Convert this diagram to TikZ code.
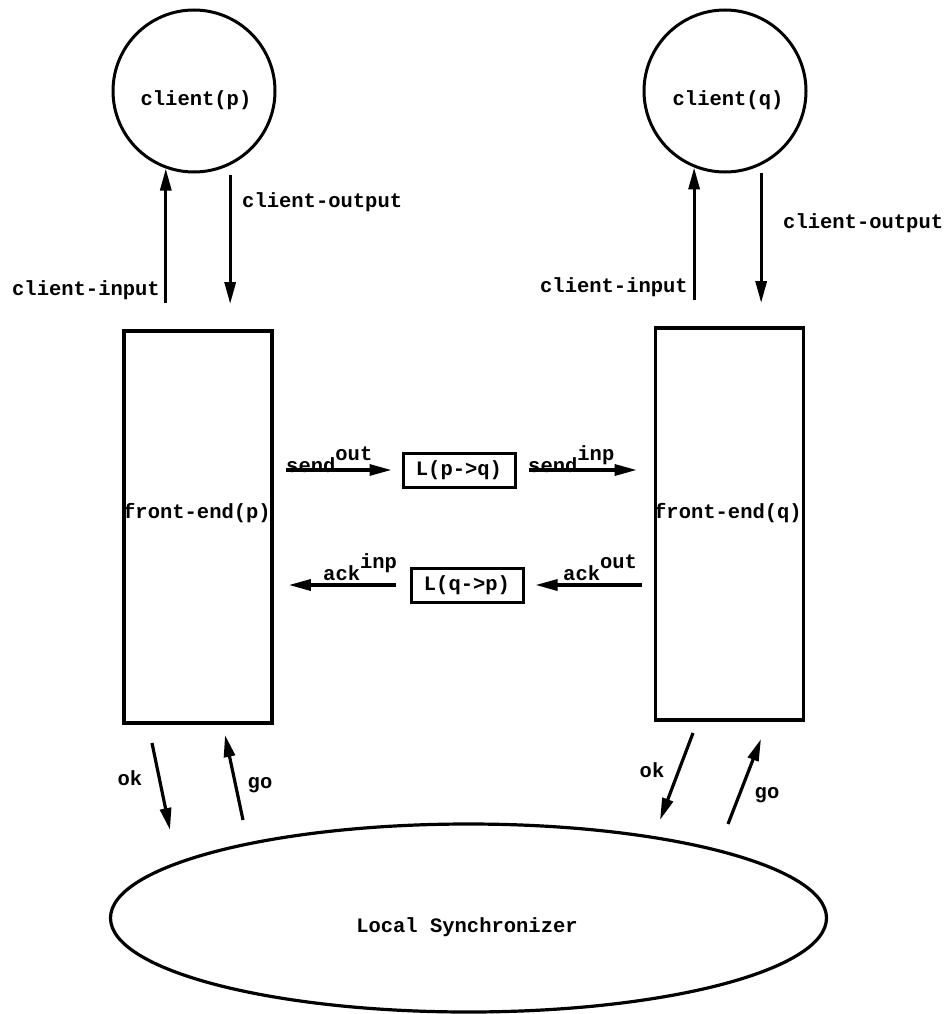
\documentclass[tikz,border=0pt]{standalone}
\usepackage{fontspec}
\setmainfont{Liberation Mono}
\usetikzlibrary{positioning, arrows.meta, calc, shapes.geometric}

\begin{document}
\begin{tikzpicture}[
  x=1pt, y=-1pt,
  font=\fontsize{20.5}{24}\selectfont\bfseries,
  lbl/.style={inner sep=0pt},
  proc/.style={draw, circle, line width=3pt, minimum size=162pt, inner sep=0pt},
  fend/.style={draw, line width=3.6pt, minimum width=148pt, minimum height=392pt, inner sep=0pt},
  chan/.style={draw, line width=3pt, minimum width=112pt, minimum height=34pt, inner sep=0pt},
  sync/.style={draw, ellipse, line width=3.2pt, minimum width=716pt, minimum height=188pt, inner sep=0pt},
  arr/.style={-{Triangle[length=22pt, width=11pt]}, line width=3.2pt},
]
\useasboundingbox (0, 0) rectangle (951, 1014);

% ─── clients ────────────────────────────────────────────────────────────────
\node[proc] (cp) at (194, 91) {};
\node[lbl] (cpl) at (196, 100) {client(p)};
\node[proc] (cq) at (725, 91) {};
\node[lbl] (cql) at (728, 100) {client(q)};

% ─── front-ends ─────────────────────────────────────────────────────────────
\node[fend] (fep) at (198, 527) {};
\node[lbl] (fepl) at (197, 513) {front-end(p)};
\node[fend] (feq) at (729.5, 524) {};
\node[lbl] (feql) at (728, 513) {front-end(q)};

% ─── channels ───────────────────────────────────────────────────────────────
\node[chan] (lpq) at (459, 470) {L(p->q)};
\node[chan] (lqp) at (467, 585) {L(q->p)};

% ─── synchronizer ───────────────────────────────────────────────────────────
\node[sync] (ls) at (468.5, 918) {};
\node[lbl] (lsl) at (467, 927) {Local Synchronizer};

% ─── client <-> front-end ───────────────────────────────────────────────────
\coordinate (cpin) at (165, 303);
\coordinate (cpout) at (229, 304);
\draw[arr] (cp.250 |- cpin) -- (cp.250);
\draw[arr, shorten <=10pt] (cp.296) -- (cp.296 |- cpout);
\node[lbl, anchor=east] (cpinl) at (160, 290) {client-input};
\node[lbl, anchor=west] (cpoutl) at (242, 202) {client-output};

\coordinate (cqin) at (695, 300);
\coordinate (cqout) at (761, 303);
\draw[arr] (cq.248 |- cqin) -- (cq.248);
\draw[arr, shorten <=8pt] (cq.296) -- (cq.296 |- cqout);
\node[lbl, anchor=east] (cqinl) at (688, 287) {client-input};
\node[lbl, anchor=west] (cqoutl) at (783, 223) {client-output};

% ─── front-end <-> channels ─────────────────────────────────────────────────
\draw[arr, shorten <=12pt, shorten >=10pt] (fep.east |- lpq) -- (lpq);
\draw[arr, shorten <=12pt, shorten >=17pt] (lpq) -- (lpq -| feq.west);
\draw[arr, shorten <=12pt, shorten >=11pt] (feq.west |- lqp) -- (lqp);
\draw[arr, shorten <=14pt, shorten >=15pt] (lqp) -- (lqp -| fep.east);
\node[lbl, anchor=base west] (sndo) at (286, 472) {send\raisebox{12pt}{out}};
\node[lbl, anchor=base west] (sndi) at (528, 472) {send\raisebox{12pt}{inp}};
\node[lbl, anchor=base west] (acko) at (563, 580) {ack\raisebox{12pt}{out}};
\node[lbl, anchor=base west] (acki) at (323, 580) {ack\raisebox{12pt}{inp}};

% ─── front-end <-> synchronizer ─────────────────────────────────────────────
\coordinate (okpa) at (152, 743);
\coordinate (okpb) at (170, 830);
\coordinate (gopa) at (243, 820);
\coordinate (gopb) at (225, 735);
\coordinate (okqa) at (693, 733);
\coordinate (okqb) at (660, 820);
\coordinate (goqa) at (728, 824);
\coordinate (goqb) at (761, 739);
\draw[arr] (okpa) -- (okpb);
\draw[arr] (gopa) -- (gopb);
\draw[arr] (okqa) -- (okqb);
\draw[arr] (goqa) -- (goqb);
\node[lbl] (okpl) at (130, 778) {ok};
\node[lbl] (gopl) at (260, 785) {go};
\node[lbl] (okql) at (652, 770) {ok};
\node[lbl] (goql) at (767, 795) {go};

\end{tikzpicture}
\end{document}
